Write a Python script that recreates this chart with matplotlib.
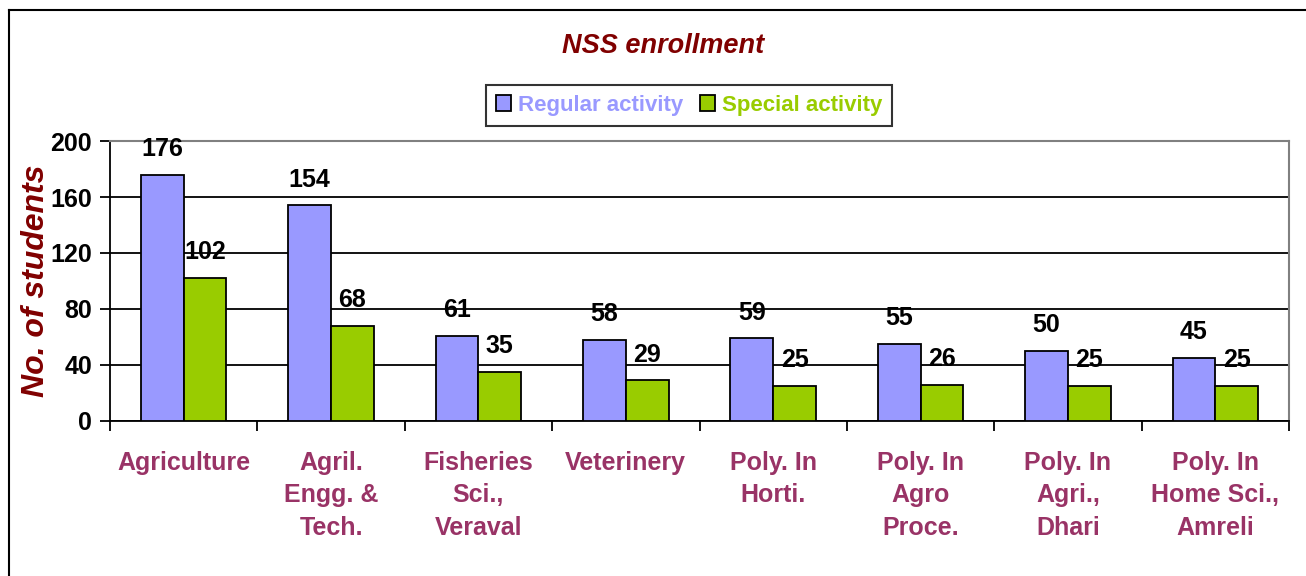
import matplotlib.pyplot as plt
import numpy as np
from matplotlib.lines import Line2D

# data
colleges = ['Agriculture', 'Agril.\nEngg. &\nTech.', 'Fisheries\nSci.,\nVeraval', 'Veterinery',
            'Poly. In\nHorti.', 'Poly. In\nAgro\nProce.', 'Poly. In\nAgri.,\nDhari', 'Poly. In\nHome Sci.,\nAmreli']
regular = [176, 154, 61, 58, 59, 55, 50, 45]
special = [102, 68, 35, 29, 25, 26, 25, 25]

plt.rcParams['font.family'] = ['Liberation Sans', 'DejaVu Sans']

fig = plt.figure(figsize=(13.06, 5.76), dpi=100)
ax = fig.add_axes([110 / 1306, 1 - 421 / 576, 1179 / 1306, 280 / 576])

x = np.arange(len(colleges))
w = 0.29
ax.bar(x - w / 2, regular, w, color='#9999FF', edgecolor='black', linewidth=1.3,
       label='Regular activity', zorder=3)
ax.bar(x + w / 2, special, w, color='#99CC00', edgecolor='black', linewidth=1.3,
       label='Special activity', zorder=3)

# value labels
for i, (r, s) in enumerate(zip(regular, special)):
    ax.annotate(str(r), (i - w / 2, r), xytext=(0, 10), textcoords='offset points',
                ha='center', va='bottom', fontsize=18, fontweight='bold')
    ax.annotate(str(s), (i + w / 2, s), xytext=(0, 10), textcoords='offset points',
                ha='center', va='bottom', fontsize=18, fontweight='bold')

ax.set_xlim(-0.5, len(colleges) - 0.5)
ax.set_ylim(0, 200)
ax.set_yticks([0, 40, 80, 120, 160, 200])
ax.tick_params(axis='y', labelsize=18, length=7, width=1.3, direction='out', pad=6)
for t in ax.get_yticklabels():
    t.set_fontweight('bold')
ax.yaxis.grid(True, color='black', linewidth=1.3, zorder=0)

ax.set_xticks(x)
ax.set_xticklabels(colleges, fontsize=18, fontweight='bold', color='#993366', linespacing=1.45, va='top')
ax.tick_params(axis='x', length=0, pad=21.5)
ax.set_xticks(np.arange(-0.5, len(colleges)), minor=True)
ax.tick_params(axis='x', which='minor', length=7, width=1.3, direction='out')

ax.spines['left'].set_linewidth(1.3)
ax.spines['bottom'].set_linewidth(1.3)
ax.spines['top'].set_color('gray')
ax.spines['right'].set_color('gray')
ax.spines['top'].set_linewidth(1.5)
ax.spines['right'].set_linewidth(1.5)

ax.set_ylabel('No. of students', fontsize=23, fontweight='bold', style='italic', color='#800000')
ax.yaxis.set_label_coords(-0.050, 0.5)

fig.text(663 / 1306, 1 - 46 / 576, 'NSS enrollment', ha='center', va='center',
         fontsize=19.5, fontweight='bold', style='italic', color='#800000')

leg = fig.legend(loc='center', bbox_to_anchor=(689 / 1306, 1 - 105 / 576), ncol=2,
                 frameon=True, fancybox=False, edgecolor='black',
                 handlelength=0.7, handleheight=0.7, handletextpad=0.3, columnspacing=0.75,
                 borderpad=0.45, borderaxespad=0.2, prop={'weight': 'bold', 'size': 16})
leg.get_frame().set_linewidth(1.5)
for txt, c in zip(leg.get_texts(), ['#9999FF', '#99CC00']):
    txt.set_color(c)

# outer frame
fig.add_artist(Line2D([9 / 1306, 9 / 1306], [0, 1 - 10 / 576], color='black', linewidth=1.5))
fig.add_artist(Line2D([9 / 1306, 1], [1 - 10 / 576, 1 - 10 / 576], color='black', linewidth=1.5))

fig.savefig('out.png', dpi=100, facecolor='white')
